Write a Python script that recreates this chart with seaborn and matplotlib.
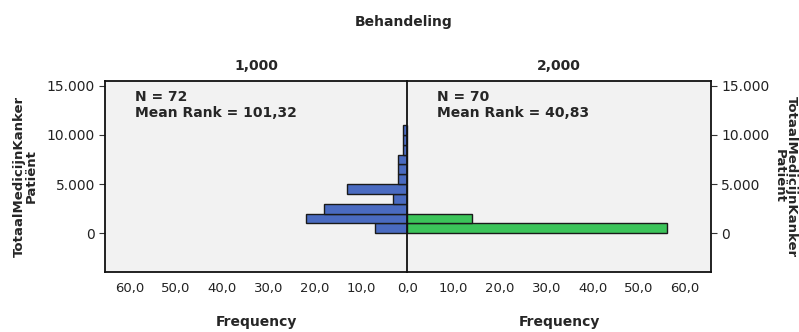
import matplotlib
matplotlib.use("Agg")
import matplotlib.pyplot as plt
import seaborn as sns
import numpy as np
from matplotlib.ticker import FuncFormatter

sns.set_style("white")
plt.rcParams['font.family'] = ['DejaVu Sans']

# Data: histogram bins (TotaalMedicijnKanker Patiënt) and frequencies per group
bin_edges = [0, 1000, 2000, 3000, 4000, 5000, 6000, 7000, 8000, 9000, 10000, 11000]
freq_group1 = [7, 22, 18, 3, 13, 2, 2, 2, 1, 1, 1]
freq_group2 = [56, 14, 0, 0, 0, 0, 0, 0, 0, 0, 0]
group_labels = ["1,000", "2,000"]
n_labels = ["N = 72", "N = 70"]
rank_labels = ["Mean Rank = 101,32", "Mean Rank = 40,83"]
x_ticks = [0, 10, 20, 30, 40, 50, 60]
y_ticks = [0, 5000, 10000, 15000]

bin_lefts = bin_edges[:-1]
colors = ["#4A6BC1", "#3CC45A"]
bg = "#F2F2F2"

fig = plt.figure(figsize=(7.99, 3.32), dpi=100)
axL = fig.add_axes([0.1318, 0.1816, 0.378, 0.5753])
axR = fig.add_axes([0.5098, 0.1816, 0.3797, 0.5753])

def eu_y(v, pos):
    if v == 0:
        return "0"
    return f"{int(v):,}".replace(",", ".")

def eu_x_left(v, pos):
    if abs(v) < 1e-9:
        return ""
    return f"{abs(v):.1f}".replace(".", ",")

def eu_x_right(v, pos):
    return f"{abs(v):.1f}".replace(".", ",")

for ax, freqs, col, nl, rl, gl, fmt in zip([axL, axR], [freq_group1, freq_group2], colors,
                                           n_labels, rank_labels, group_labels,
                                           [eu_x_left, eu_x_right]):
    sns.histplot(y=bin_lefts, weights=freqs, bins=bin_edges, ax=ax, color=col,
                 alpha=1, edgecolor="#1a1a1a", linewidth=1.0)
    ax.set_facecolor(bg)
    ax.set_ylim(-3900, 15500)
    ax.set_yticks(y_ticks)
    ax.set_xticks(x_ticks)
    ax.yaxis.set_major_formatter(FuncFormatter(eu_y))
    ax.xaxis.set_major_formatter(FuncFormatter(fmt))
    ax.tick_params(axis="both", direction="out", length=4, width=0.8, colors="#333333",
                   labelcolor="#222222")
    ax.tick_params(axis="y", labelsize=10)
    ax.tick_params(axis="x", labelsize=9.5)
    for s in ax.spines.values():
        s.set_linewidth(1.3)
        s.set_color("#111111")
    ax.set_xlabel("Frequency", fontsize=10, fontweight="bold", labelpad=14)
    ax.set_title(gl, fontsize=10, fontweight="bold", pad=8)
    ax.text(0.098, 0.95, nl + "\n" + rl, transform=ax.transAxes, fontsize=10,
            fontweight="bold", va="top", ha="left", linespacing=1.15)

axL.set_xlim(65.3, 0)
axR.set_xlim(0, 65.5)

axL.set_ylabel("TotaalMedicijnKanker\nPatiënt", fontsize=9.5, fontweight="bold",
               linespacing=0.95, rotation=90, ha="center", va="center")
axL.yaxis.set_label_coords(-0.265, 0.5)
axR.yaxis.tick_right()
axR.yaxis.set_label_position("right")
axR.set_ylabel("TotaalMedicijnKanker\nPatiënt", fontsize=9.5, fontweight="bold",
               rotation=270, ha="center", va="center", linespacing=0.95)
axR.yaxis.set_label_coords(1.245, 0.5)
axL.spines["right"].set_visible(False)
axL.tick_params(axis="y", left=True, right=False)
axR.tick_params(axis="y", right=True, left=False)

fig.text(0.505, 0.935, "Behandeling", ha="center", va="center", fontsize=10, fontweight="bold")

fig.savefig("out.png", dpi=100)
